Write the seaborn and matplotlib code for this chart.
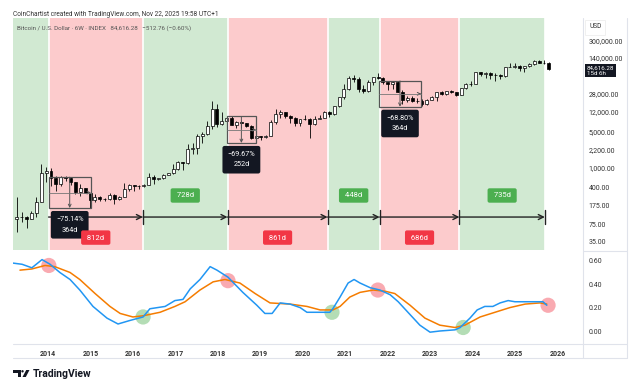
import numpy as np
import pandas as pd
import seaborn as sns
import matplotlib
matplotlib.use("Agg")
import matplotlib.pyplot as plt
import matplotlib.transforms as mtransforms
from matplotlib.patches import Rectangle, Polygon, Circle
from matplotlib.lines import Line2D
from matplotlib.ticker import NullLocator

# ================= DATA =================
# Bitcoin / USD, 6-week candles (first candle starts at CANDLE_START)
CANDLE_START = "2013-04-08"
FIRST_OPEN = 95
CLOSE = [108, 105, 98, 125, 210, 760, 830, 620, 460, 650,
         620, 510, 330, 385, 315, 225, 265, 240, 235, 290,
         240, 265, 380, 445, 438, 420, 455, 650, 590, 610,
         700, 775, 920, 1270, 1200, 2250, 2350, 4100, 4400, 6500,
         14000, 7000, 8200, 9250, 6700, 7700, 7200, 6500, 3800, 4000,
         3900, 4100, 7800, 11000, 11800, 10200, 9200, 7500, 8700, 8900,
         6900, 8900, 9300, 12000, 10800, 15500, 24000, 33500, 56000, 54000,
         33500, 31000, 47000, 57500, 56500, 46500, 42500, 47000, 30000, 20500,
         23000, 20200, 19500, 17000, 21000, 23500, 29600, 26800, 30600, 29300,
         26300, 35000, 42600, 43300, 72000, 66800, 70500, 64700, 62800, 62200,
         92000, 92800, 97500, 88000, 94700, 106800, 119400, 112100, 110600, 84616.28]
HIGH = [260, 135, 112, 140, 260, 1160, 1000, 960, 680, 680,
        680, 630, 520, 460, 400, 320, 300, 270, 245, 315,
        300, 270, 500, 470, 450, 445, 465, 780, 700, 625,
        735, 780, 1160, 1300, 1280, 2800, 3000, 4480, 4980, 7900,
        19800, 17200, 11800, 9900, 9950, 8200, 8500, 7400, 6800, 4300,
        4100, 4200, 8300, 13800, 13200, 12300, 10300, 9500, 8900, 10500,
        9200, 10000, 10400, 12400, 12500, 16000, 24200, 42000, 61800, 65000,
        59500, 41000, 50500, 58000, 69000, 59000, 47500, 48200, 48200, 32600,
        24600, 25200, 22700, 21400, 21400, 25200, 29800, 31000, 31400, 31800,
        29700, 35900, 44700, 49000, 72900, 73800, 71900, 72000, 70000, 66500,
        93500, 108300, 109500, 98800, 97900, 112000, 123200, 124500, 126200, 116400]
LOW = [55, 85, 65, 96, 105, 205, 520, 420, 340, 420,
       550, 450, 300, 275, 310, 160, 210, 215, 220, 225,
       190, 225, 260, 350, 350, 370, 410, 440, 480, 560,
       590, 690, 750, 880, 890, 1170, 1850, 1830, 2980, 4200,
       5500, 6000, 6800, 6500, 6600, 5750, 5900, 6100, 3500, 3150,
       3350, 3700, 4100, 7000, 9100, 9400, 7300, 6500, 6400, 8300,
       3800, 6600, 8600, 9000, 9800, 10400, 15000, 22000, 32000, 47000,
       30000, 28800, 29300, 40000, 54000, 42000, 33000, 34300, 29700, 17600,
       18800, 18600, 18100, 15500, 16300, 20400, 19600, 26000, 25400, 28800,
       24900, 26100, 34200, 38500, 41800, 60700, 56500, 53500, 49000, 52500,
       58900, 90500, 89000, 76600, 74500, 93500, 98200, 107300, 103500, 80500]

# cycle phases (top -> bottom -> top ...)
CYCLE_START = "2014-01-06"
CYCLE_DAYS = [812, 728, 861, 448, 686, 735]
CYCLE_KIND = ["bear", "bull", "bear", "bull", "bear", "bull"]

# drawdown range boxes
DD_START = ["2014-01-06", "2018-03-19", "2021-10-18"]
DD_DAYS = [364, 252, 364]
DD_TOP = [640, 9850, 49000]
DD_PCT = [-75.14, -69.67, -68.80]

PRICE_TICKS = [35, 75, 175, 400, 1000, 2200, 5000, 12000, 28000, 140000, 300000]

# lower oscillator (decimal years)
BLUE_T = [2013.18, 2013.39, 2013.62, 2013.86, 2014.05, 2014.28, 2014.52, 2014.75,
          2015.06, 2015.39, 2015.65, 2015.93, 2016.24, 2016.40, 2016.76, 2016.99,
          2017.18, 2017.35, 2017.58, 2017.82, 2017.98, 2018.24, 2018.59, 2018.92,
          2019.11, 2019.28, 2019.47, 2019.70, 2019.94, 2020.10, 2020.41, 2020.64,
          2020.71, 2020.88, 2021.07, 2021.21, 2021.35, 2021.59, 2021.82, 2022.06,
          2022.25, 2022.53, 2022.76, 2023.00, 2023.23, 2023.59, 2023.71, 2023.94,
          2024.11, 2024.29, 2024.48, 2024.65, 2024.84, 2025.00, 2025.35, 2025.66, 2025.75]
BLUE_V = [0.58, 0.57, 0.54, 0.61, 0.57, 0.50, 0.44, 0.35,
          0.21, 0.11, 0.06, 0.09, 0.12, 0.19, 0.21, 0.26,
          0.27, 0.36, 0.44, 0.55, 0.52, 0.46, 0.33, 0.22,
          0.15, 0.15, 0.24, 0.23, 0.20, 0.16, 0.16, 0.16,
          0.19, 0.29, 0.41, 0.44, 0.41, 0.37, 0.35, 0.31,
          0.25, 0.14, 0.05, -0.01, 0.00, 0.01, 0.03, 0.11,
          0.18, 0.21, 0.21, 0.24, 0.26, 0.25, 0.25, 0.25, 0.22]
ORANGE_T = [2013.34, 2013.62, 2013.93, 2014.16, 2014.52, 2014.75, 2015.11, 2015.46,
            2015.70, 2016.00, 2016.24, 2016.64, 2016.99, 2017.23, 2017.58, 2017.89,
            2018.17, 2018.52, 2018.88, 2019.23, 2019.70, 2020.10, 2020.41, 2020.71,
            2020.88, 2021.11, 2021.35, 2021.66, 2021.94, 2022.17, 2022.53, 2022.88,
            2023.23, 2023.59, 2023.82, 2024.18, 2024.53, 2024.88, 2025.24, 2025.59, 2025.75]
ORANGE_V = [0.52, 0.53, 0.56, 0.55, 0.50, 0.44, 0.32, 0.21,
            0.15, 0.12, 0.13, 0.16, 0.21, 0.25, 0.35, 0.42,
            0.44, 0.41, 0.32, 0.24, 0.23, 0.21, 0.18, 0.18,
            0.21, 0.29, 0.33, 0.35, 0.34, 0.32, 0.22, 0.11,
            0.05, 0.03, 0.05, 0.12, 0.16, 0.20, 0.23, 0.24, 0.23]
CROSS_T = [2014.02, 2016.24, 2018.24, 2020.69, 2021.77, 2023.78, 2025.78]
CROSS_V = [0.56, 0.12, 0.43, 0.16, 0.35, 0.03, 0.22]
CROSS_KIND = ["top", "bottom", "top", "bottom", "top", "bottom", "top"]

YEARS = list(range(2014, 2027))
# =========================================

GREEN_BG = "#D1E9D2"
RED_BG = "#FCCBCC"
TV_RED = "#F23645"
TV_GREEN = "#4CAF50"
W, H = 638, 389


def dyear(ts):
    ts = pd.to_datetime(ts)
    return np.asarray(ts.year + (ts.dayofyear - 1) / 365.25, dtype=float)


def fbox(x0, y0, x1, y1):
    return [x0 / W, 1 - y1 / H, (x1 - x0) / W, (y1 - y0) / H]


sns.set_theme(style="white")
plt.rcParams["font.family"] = ["Roboto", "DejaVu Sans"]

fig = plt.figure(figsize=(6.38, 3.89), dpi=100)
ax = fig.add_axes(fbox(13, 18, 583, 250))
ax2 = fig.add_axes(fbox(13, 252, 583, 344))

XMIN, XMAX = 2013.176, 2026.603

# --------------------------------------------------
# Cycle shading
# --------------------------------------------------
b0 = float(dyear([CYCLE_START])[0])
bounds = [b0]
for d in CYCLE_DAYS:
    bounds.append(bounds[-1] + d / 365.25)

ax.axvspan(XMIN, bounds[0], color=GREEN_BG, lw=0, zorder=0)
for i, kind in enumerate(CYCLE_KIND):
    ax.axvspan(bounds[i], bounds[i + 1], color=RED_BG if kind == "bear" else GREEN_BG, lw=0, zorder=0)
for b in bounds:
    ax.axvline(b, color="white", lw=1.2, zorder=0.5)

# --------------------------------------------------
# Candles
# --------------------------------------------------
close = np.array(CLOSE, dtype=float)
opens = np.r_[FIRST_OPEN, close[:-1]]
high = np.array(HIGH, dtype=float)
low = np.array(LOW, dtype=float)
cx = dyear(pd.date_range(CANDLE_START, periods=len(close), freq="6W-MON"))
up = close >= opens

ax.vlines(cx, low, high, color="black", lw=0.6, zorder=2)
ax.bar(cx, np.maximum(np.abs(close - opens), 1e-6), bottom=np.minimum(opens, close), width=0.07,
       color=np.where(up, "white", "black"), edgecolor="black", linewidth=0.5, zorder=3)

ax.set_yscale("log")
ax.set_ylim(24, 8.34e5)
ax.set_xlim(XMIN, XMAX)

# --------------------------------------------------
# Drawdown boxes
# --------------------------------------------------
for start, days, top, pct in zip(DD_START, DD_DAYS, DD_TOP, DD_PCT):
    x0 = float(dyear([start])[0])
    x1 = x0 + days / 365.25
    bot = top * (1 + pct / 100)
    ax.add_patch(Rectangle((x0, bot), x1 - x0, top - bot, fill=False, ec="#555555", lw=0.9, zorder=4))
    ym = np.sqrt(top * bot)
    xm = (x0 + x1) / 2
    ax.plot([x0, x1], [ym, ym], color="#777777", lw=0.6, zorder=4)
    ax.annotate("", xy=(x1, ym), xytext=(x1 - 0.05, ym),
                arrowprops=dict(arrowstyle="->", color="#555555", lw=0.7, mutation_scale=5))
    ax.annotate("", xy=(xm, bot), xytext=(xm, top),
                arrowprops=dict(arrowstyle="->", color="#555555", lw=0.7, mutation_scale=5,
                                shrinkA=0, shrinkB=0))
    ax.annotate(f"{pct:.2f}%".replace("-", "\u2212") + f"\n{days}d", xy=(xm, bot),
                xytext=(0, -8), textcoords="offset pixels", ha="center", va="top",
                fontsize=5.2, color="white", linespacing=1.7, zorder=6,
                bbox=dict(boxstyle="round,pad=0.7,rounding_size=0.3", fc="#131722", ec="none"))

# --------------------------------------------------
# Cycle length arrows + labels
# --------------------------------------------------
ARROW_P = 106
for i, (kind, days) in enumerate(zip(CYCLE_KIND, CYCLE_DAYS)):
    a, b = bounds[i], bounds[i + 1]
    ax.annotate("", xy=(b, ARROW_P), xytext=(a, ARROW_P),
                arrowprops=dict(arrowstyle="->", color="#222222", lw=1.0, mutation_scale=9,
                                shrinkA=0, shrinkB=0), zorder=5)
    ax.plot([b, b], [77, 146], color="#222222", lw=1.0, zorder=5)
    ly = 42 if kind == "bear" else 280
    ax.text((a + b) / 2, ly, f" {days}d ", ha="center", va="center", fontsize=5.5, color="white", zorder=6,
            bbox=dict(boxstyle="round,pad=0.55,rounding_size=0.25",
                      fc=TV_RED if kind == "bear" else TV_GREEN, ec="none"))

# axis cosmetics
for s in ax.spines.values():
    s.set_visible(False)
ax.yaxis.tick_right()
ax.set_yticks(PRICE_TICKS)
ax.set_yticklabels([f"{v:,.2f}" for v in PRICE_TICKS])
ax.yaxis.set_minor_locator(NullLocator())
ax.tick_params(axis="y", length=0, pad=4, labelsize=5, labelcolor="#333333")
ax.tick_params(axis="x", bottom=False, labelbottom=False)
ax.grid(False)

last = close[-1]
ax.annotate(f"{last:,.2f}\n15d 6h", xy=(1.0, last),
            xycoords=mtransforms.blended_transform_factory(ax.transAxes, ax.transData),
            xytext=(4, -2), textcoords="offset pixels",
            ha="left", va="center", fontsize=4.5, color="white", linespacing=1.05,
            bbox=dict(boxstyle="square,pad=0.25", fc="#131722", ec="none"), annotation_clip=False)

# --------------------------------------------------
# Lower oscillator panel
# --------------------------------------------------
ax2.scatter(CROSS_T, CROSS_V, s=120,
            c=[TV_RED if k == "top" else TV_GREEN for k in CROSS_KIND],
            alpha=0.42, edgecolors="none", zorder=1)
sns.lineplot(x=BLUE_T, y=BLUE_V, ax=ax2, color="#2196F3", lw=1.1, zorder=3)
sns.lineplot(x=ORANGE_T, y=ORANGE_V, ax=ax2, color="#F57C00", lw=1.1, zorder=2)

ax2.set_xlim(XMIN, XMAX)
ax2.set_ylim(-0.111, 0.675)
for s in ax2.spines.values():
    s.set_visible(False)
ax2.yaxis.tick_right()
ax2.set_yticks([0.0, 0.2, 0.4, 0.6])
ax2.set_yticklabels(["0.00", "0.20", "0.40", "0.60"])
ax2.set_xticks(YEARS)
ax2.set_xticklabels([str(y) for y in YEARS], fontweight="bold")
ax2.tick_params(axis="y", length=0, pad=4, labelsize=5, labelcolor="#333333")
ax2.tick_params(axis="x", length=0, pad=4, labelsize=5, labelcolor="#333333")
ax2.set_xlabel("")
ax2.set_ylabel("")
ax2.grid(False)

# --------------------------------------------------
# Frame lines, header, branding
# --------------------------------------------------
LC = "#E0E3EB"
def fline(xs, ys):
    fig.add_artist(Line2D([x / W for x in xs], [1 - y / H for y in ys], color=LC, lw=0.8))

fline([583, 583], [18, 358])
fline([627, 627], [18, 358])
fline([583, 627], [251, 251])
fline([13, 627], [344, 344])
fline([13, 627], [358, 358])

fig.text(13 / W, 1 - 14 / H, "CoinChartist created with TradingView.com, Nov 22, 2025 19:58 UTC+1",
         fontsize=4.7, color="#333333", va="center", ha="left")
fig.text(17 / W, 1 - 28 / H,
         "Bitcoin / U.S. Dollar \u00b7 6W \u00b7 INDEX   84,616.28   \u2212512.76 (\u22120.60%)",
         fontsize=4.5, color="#555555", va="center", ha="left")
fig.text(589 / W, 1 - 27 / H, "USD", fontsize=4.8, color="#333333", va="center", ha="left",
         bbox=dict(boxstyle="square,pad=0.6", fc="white", ec="#EEEEEE", lw=0.6))

# TradingView logo
px = mtransforms.Affine2D().scale(1 / W, -1 / H).translate(0, 1) + fig.transFigure
fig.add_artist(Polygon([(13, 370), (20.5, 370), (20.5, 377), (17.5, 377), (17.5, 372.6), (13, 372.6)],
                       closed=True, fc="#131722", ec="none", transform=px))
fig.add_artist(Circle((22.5, 371.3), 1.2, fc="#131722", ec="none", transform=px))
fig.add_artist(Polygon([(22.5, 377), (26.2, 370), (29.5, 370), (25.8, 377)],
                       closed=True, fc="#131722", ec="none", transform=px))
fig.text(33 / W, 1 - 374 / H, "TradingView", fontsize=7.5, fontweight="bold",
         color="#131722", va="center", ha="left")

fig.savefig("out.png", dpi=100)
